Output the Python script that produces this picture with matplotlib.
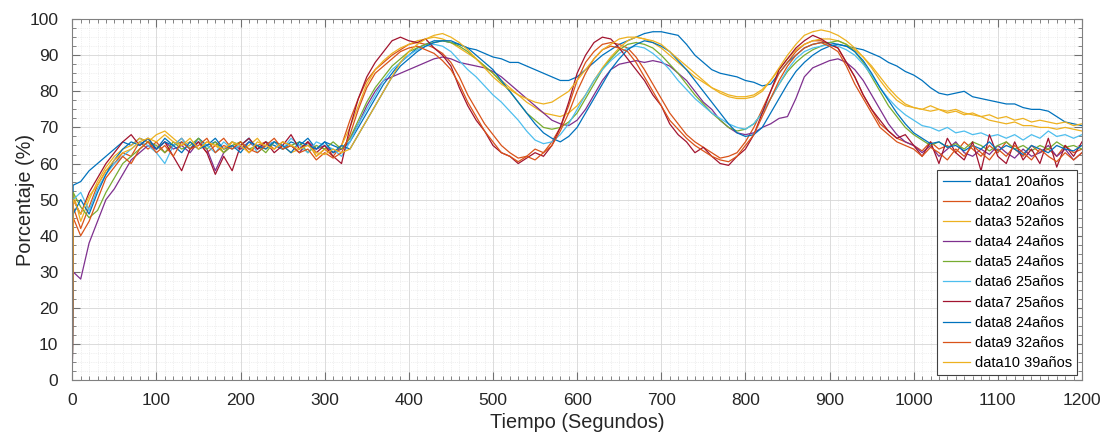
import numpy as np
import matplotlib
matplotlib.use("Agg")
import matplotlib.pyplot as plt
from matplotlib.ticker import MultipleLocator

plt.rcParams['font.family'] = ['Liberation Sans', 'DejaVu Sans']

# eje de tiempo (s): 0, 1 y luego cada 10 s
tiempo = [0, 1] + list(range(10, 1201, 10))

etiquetas = ['data1 20años', 'data2 20años', 'data3 52años', 'data4 24años',
             'data5 24años', 'data6 25años', 'data7 25años', 'data8 24años',
             'data9 32años', 'data10 39años']

# colores por defecto de MATLAB
colores = ['#0072BD', '#D95319', '#EDB120', '#7E2F8E', '#77AC30',
           '#4DBEEE', '#A2142F', '#0072BD', '#D95319', '#EDB120']

data1 = [0, 54,
         55, 58, 60, 62, 64, 66, 65, 67, 66, 64,
         67, 65, 66, 64, 67, 65, 66, 64, 66, 65,
         67, 64, 66, 65, 64, 66, 65, 67, 64, 66,
         65, 64, 66, 70, 74, 78, 82, 85, 88, 90,
         92, 93, 94, 94, 93.5, 93, 92, 91.5, 90.5, 89.5,
         89, 88, 88, 87, 86, 85, 84, 83, 83, 84,
         86, 88, 90, 91.5, 93, 94, 95, 96, 96.5, 96.5,
         96, 95.5, 93, 90, 88, 86, 85, 84.5, 84, 83,
         82.5, 81.5, 82, 85, 88, 90, 92, 93, 93.5, 93.5,
         93, 92.5, 92, 91.5, 90.5, 89.5, 88, 87, 85.5, 84.5,
         83, 81, 79.5, 79, 79.5, 80, 78.5, 78, 77.5, 77,
         76.5, 76.5, 75.5, 75, 75, 74.5, 73, 71.5, 71, 70.5]

data2 = [0, 48,
         42, 48, 54, 58, 60, 63, 62, 66, 64, 66,
         63, 65, 67, 64, 66, 63, 65, 67, 64, 66,
         63, 65, 66, 64, 66, 65, 63, 66, 62, 64,
         62, 65, 72, 78, 83, 86, 88, 90, 91.5, 93,
         93.5, 93, 92, 90.5, 88, 84, 79, 75, 71, 68,
         65, 63, 61.5, 62, 64, 63, 66, 70, 76, 83,
         88, 91, 93, 93.5, 93, 92, 89.5, 86, 82, 78,
         74, 71, 68, 66, 64.5, 63, 61.5, 62, 63, 66,
         70, 75, 80, 85, 88, 91, 93, 94, 94, 93,
         92, 88, 84, 79, 75, 71, 69, 67, 66, 65,
         63.5, 66, 64, 65, 63, 66, 64, 62, 65, 63,
         66, 64, 62, 65, 63, 64, 62, 65, 63, 64]

data3 = [0, 52,
         44, 50, 55, 59, 62, 64, 65, 67, 66, 68,
         69, 67, 65, 66, 64, 66, 65, 63, 66, 64,
         65, 67, 64, 66, 65, 63, 64, 66, 62, 64,
         63, 65, 70, 76, 82, 86, 88.5, 90.5, 92, 93,
         94, 94.5, 95, 94.5, 93.5, 92, 90.5, 89, 87, 85,
         83, 81, 79, 77, 75.5, 74, 73.5, 73, 74, 76,
         79, 83, 86.5, 89.5, 92, 94, 95, 94.5, 93.5, 92,
         90, 88, 86, 84, 82.5, 81, 80, 79, 78.5, 78.5,
         79, 80.5, 83, 86, 89, 91.5, 93, 94, 94.5, 94.5,
         94, 93, 91.5, 89.5, 87, 84, 81, 78.5, 76.5, 75.5,
         75, 74.5, 75, 74, 74.5, 73.5, 74, 73, 73.5, 72.5,
         73, 72, 72.5, 71.5, 72, 71.5, 71, 71.5, 70.5, 71]

data4 = [0, 30,
         28, 38, 44, 50, 53, 57, 61, 63, 65, 64,
         66, 64, 65, 63, 66, 64, 58, 63, 65, 64,
         66, 64, 65, 66, 64, 65, 63, 66, 64, 65,
         63, 64, 67, 71, 76, 80, 83, 84, 85, 86,
         87, 88, 89, 89.5, 89, 88, 87.5, 87, 86.5, 85.5,
         84, 82, 80, 78, 76, 74, 72, 71, 70.5, 72,
         75, 79, 83, 86, 87.5, 88, 88.5, 88, 88.5, 88,
         87, 85, 83, 80, 77, 75, 72, 70, 68.5, 68,
         68.5, 70, 71, 72.5, 73, 78, 84, 86.5, 87.5, 88.5,
         89, 88, 86, 83, 79, 75, 71, 68, 66, 65,
         63, 65, 62, 64, 66, 63, 62, 64, 62.5, 65,
         63, 61.5, 64, 62, 63, 65, 62, 64, 61, 63]

data5 = [0, 52,
         48, 45, 47, 52, 56, 60, 62, 64, 66, 65,
         63, 66, 64, 65, 67, 64, 66, 63, 65, 66,
         64, 65, 63, 66, 64, 65, 66, 63, 65, 64,
         66, 64, 67, 72, 77, 81, 84, 87, 89, 91,
         92, 93, 93.5, 94, 93.5, 92.5, 91, 89, 87, 85,
         82.5, 80, 77, 74, 72, 70, 69.5, 70, 71.5, 74,
         78, 82, 86, 89, 91.5, 93, 93.5, 93, 92, 90,
         87.5, 85, 82, 79, 76.5, 74, 72, 70, 69, 69.5,
         71, 74, 78, 82, 85.5, 88, 90, 91.5, 92.5, 93.5,
         94, 93, 91, 88, 84, 80, 76, 73, 70, 68,
         66.5, 65, 66, 64.5, 65.5, 64, 66, 65, 63.5, 65,
         66, 64, 65, 63.5, 65, 64, 66, 64.5, 65, 64]

data6 = [0, 50,
         52, 47, 53, 57, 60, 62, 64, 66, 65, 63,
         60, 65, 67, 64, 66, 65, 63, 66, 64, 65,
         67, 63, 65, 66, 64, 67, 65, 63, 66, 65,
         64, 62, 66, 71, 75, 79, 83, 86, 88, 90,
         91.5, 92.5, 93, 92.5, 91, 88.5, 86, 84, 81.5, 79,
         77, 74.5, 72, 69, 66.5, 65.5, 66, 68, 71, 75,
         79, 83, 86, 88.5, 90.5, 92, 92.5, 92, 90.5, 88.5,
         86, 83, 80.5, 78, 76, 74, 72.5, 71, 70, 69.5,
         71, 74, 78, 82, 86, 89, 91, 92, 92.5, 93,
         92.5, 91.5, 90, 87.5, 84.5, 81, 78, 75.5, 73.5, 72,
         70.5, 70, 69, 70, 68.5, 69, 68, 68.5, 67.5, 68,
         67, 68, 66.5, 68, 67, 69, 67.5, 68, 67, 68]

data7 = [0, 50,
         46, 52, 56, 60, 63, 66, 68, 65, 67, 64,
         66, 62, 58, 64, 66, 63, 57, 62, 58, 65,
         67, 64, 66, 63, 65, 68, 64, 66, 63, 65,
         62, 60, 70, 78, 84, 88, 91, 94, 95, 94,
         93.5, 94.5, 92, 90, 87, 81, 76, 72, 69, 65,
         63, 62, 60, 61.5, 63, 62, 65, 70, 77, 85,
         90, 93.5, 95, 94.5, 92, 89, 86, 83, 79, 76,
         71, 68, 66, 63, 64.5, 62, 60, 59.5, 62, 64,
         68, 74, 80, 86, 89, 92, 94, 95.5, 94.5, 93,
         92, 88, 84, 79, 75, 72, 69, 67, 68, 65,
         62, 66, 60, 67, 63, 61, 66, 58, 68, 62,
         60, 66, 61, 64, 60, 67, 59, 65, 62, 66]

data8 = [0, 46,
         50, 46, 52, 57, 61, 64, 66, 65, 67, 64,
         66, 65, 63, 66, 64, 65, 67, 64, 65, 63,
         66, 65, 64, 66, 65, 63, 66, 65, 64, 66,
         63, 65, 64, 68, 72, 76, 80, 84, 87, 89,
         91, 92.5, 93.5, 94, 94, 93, 92, 90, 88, 86,
         83, 80, 77, 74, 71, 68.5, 67, 66, 67.5, 70,
         74, 78, 82, 86, 89, 91.5, 93, 94, 93.5, 92.5,
         91, 88.5, 86, 83, 80, 77, 74, 71, 68.5, 67.5,
         68, 70, 74, 78, 82, 85.5, 88, 90, 91.5, 92.5,
         93, 92.5, 91, 88.5, 85, 81, 77.5, 74, 71, 68.5,
         67, 65.5, 66, 64.5, 65, 63.5, 65, 64, 66, 63.5,
         65, 64, 62.5, 65, 64, 63, 65, 64, 63.5, 65]

data9 = [0, 45,
         40, 44, 50, 56, 59, 62, 60, 64, 66, 63,
         65, 62, 66, 64, 65, 67, 63, 65, 64, 66,
         64, 63, 65, 67, 64, 65, 63, 64, 61, 63,
         61.5, 63, 68, 75, 81, 85, 87, 89, 91, 92,
         92.5, 91.5, 90.5, 88.5, 86, 82, 77, 73, 69, 66,
         63, 62, 60.5, 62, 61, 63, 65, 69, 74, 80,
         85, 89, 91.5, 92.5, 92, 91, 88, 84, 80, 76,
         72, 69.5, 67, 65, 63.5, 62, 61, 60.5, 62, 65,
         68, 73, 78, 83, 87, 90, 92, 93, 93.5, 92.5,
         91, 87, 82, 78, 74, 70, 68, 66, 65, 64,
         62, 64.5, 63, 61, 64, 62, 65, 63, 61, 64,
         62, 65, 63, 61, 64, 62, 60.5, 63, 61, 63]

data10 = [0, 50,
          46, 51, 54, 58, 61, 63, 64, 66, 67, 66,
          68, 66, 65, 67, 64, 66, 65, 64, 66, 65,
          63, 66, 65, 64, 66, 65, 64, 65, 63, 62.5,
          64, 63, 64, 68, 72, 76, 80, 84, 88, 91,
          93, 94.5, 95.5, 96, 95, 93.5, 91.5, 89, 86.5, 84,
          82, 80.5, 79, 78, 77, 76.5, 77, 78.5, 80, 83,
          86, 89, 91.5, 93, 94.5, 95, 95, 94.5, 94, 93,
          91, 89, 87, 85, 83, 81, 79.5, 78.5, 78, 78,
          78.5, 80, 83, 86.5, 90, 93, 95.5, 96.5, 97, 96.5,
          95.5, 94, 92, 89.5, 86.5, 83, 80, 77.5, 76, 75.5,
          75, 76, 75, 74.5, 75, 74, 73.5, 73, 72, 71.5,
          71, 71.5, 70.5, 70.5, 70, 70, 69.5, 70, 69.5, 69]

series = [data1, data2, data3, data4, data5, data6, data7, data8, data9, data10]

fig = plt.figure(figsize=(11.12, 4.34), dpi=100)
ax = fig.add_axes([0.065, 0.124, 0.908, 0.832])

for datos, col, lab in zip(series, colores, etiquetas):
    ax.plot(tiempo, datos, color=col, lw=0.9, label=lab)

ax.set_xlim(0, 1200)
ax.set_ylim(0, 100)
ax.xaxis.set_major_locator(MultipleLocator(100))
ax.xaxis.set_minor_locator(MultipleLocator(10))
ax.yaxis.set_major_locator(MultipleLocator(10))
ax.yaxis.set_minor_locator(MultipleLocator(2.5))

# estilo parecido al de MATLAB (grid on, grid minor, box on)
ax.grid(which='major', color='#d6d6d6', lw=0.6, ls='-')
ax.grid(which='minor', color='#e2e2e2', lw=0.5, ls=':')
ax.set_axisbelow(True)
ax.tick_params(which='both', direction='in', top=True, right=True,
               colors='#707070', labelcolor='#262626', labelsize=12.5)
ax.tick_params(which='major', length=6)
ax.tick_params(which='minor', length=3)
ax.tick_params(axis='x', which='major', pad=9)
ax.tick_params(axis='y', which='major', pad=10)
for s in ax.spines.values():
    s.set_color('#808080')
    s.set_linewidth(0.8)

ax.set_xlabel('Tiempo (Segundos)', fontsize=14.3, color='#262626', labelpad=4)
ax.set_ylabel('Porcentaje (%)', fontsize=14.3, color='#262626', labelpad=-4)

leg = ax.legend(loc='lower right', fontsize=10.5, handlelength=1.9,
                borderaxespad=0.35, labelspacing=0.42, fancybox=False,
                framealpha=1, edgecolor='#404040', borderpad=0.35,
                handletextpad=0.3)
leg.get_frame().set_linewidth(0.8)

fig.savefig('out.png', dpi=100)
